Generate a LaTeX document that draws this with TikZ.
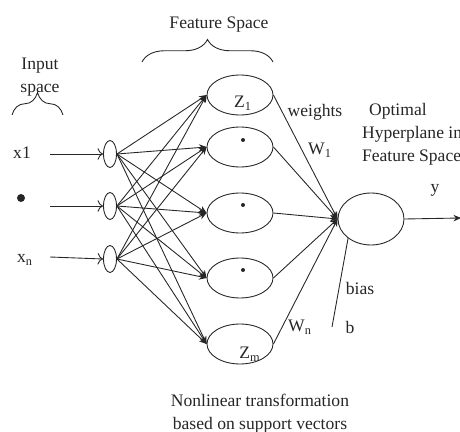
\documentclass[tikz,border=0pt]{standalone}
\usepackage{fontspec}
\setmainfont{Liberation Serif}
\usetikzlibrary{arrows.meta, shapes.geometric, decorations.pathreplacing}

\begin{document}
\begin{tikzpicture}[x=0.02cm, y=-0.02cm,
  lien/.style={black!85, line width=0.5pt},
  fleche/.style={-{Stealth[length=1.5mm, width=1.3mm]}},
  flecheE/.style={-{To[length=1.1mm]}},
  neurone/.style={draw, lien, ellipse, inner sep=0pt, minimum width=1.32cm, minimum height=0.8cm},
  entree/.style={draw, lien, ellipse, inner sep=0pt, minimum width=0.26cm, minimum height=0.54cm},
  point/.style={circle, fill=black!85, inner sep=0pt, minimum size=#1},
  accolade/.style={lien, decorate, decoration={brace, amplitude=0.45cm}},
  txt/.style={font=\fontsize{10}{13}\selectfont, inner sep=1pt, text=black!85}
]
  \useasboundingbox (0,0) rectangle (460,432);
  % Entrees
  \node[txt] (x1) at (22,153) {x1};
  \node[point=0.16cm] (xd) at (21,198) {};
  \node[txt] (xn) at (25,260) {x\textsubscript{n}};
  \coordinate (s1) at (50,154);
  \coordinate (s2) at (50,206);
  \coordinate (s3) at (50,257);
  \foreach \i/\y in {1/154, 2/206, 3/259}
    \node[entree] (a\i) at (110,\y) {};
  % Espace des caracteristiques
  \foreach \j/\y in {1/95, 2/147, 3/213, 4/278, 5/344}
    \node[neurone] (f\j) at (240,\y) {};
  \node[txt] (z1) at (243,103) {Z\textsubscript{1}};
  \node[point=0.08cm] (d2) at (243,140) {};
  \node[point=0.08cm] (d3) at (243,205) {};
  \node[point=0.08cm] (d4) at (243,270) {};
  \node[txt] (zm) at (250,354) {Z\textsubscript{m}};
  % Sortie
  \node[draw, lien, ellipse, inner sep=0pt, minimum width=1.32cm, minimum height=1.04cm] (o) at (371,219) {};
  \coordinate (b) at (332,327);
  \coordinate (y) at (461,218);
  % Liaisons
  \foreach \i in {1,2,3} \draw[lien, flecheE] (s\i) -- (a\i.west);
  \foreach \i in {1,2,3}
    \foreach \j in {1,...,5}
      \draw[lien, fleche] (a\i.east) -- (f\j.west);
  \foreach \j in {1,...,5} \draw[lien, fleche] (f\j.east) -- (o.west);
  \draw[lien] (b) -- (o.220);
  \draw[lien, fleche] (o.east) -- (y);
  % Textes
  \node[txt] (wts) at (315,112) {weights};
  \node[txt] (w1) at (320,150) {W\textsubscript{1}};
  \node[txt] (wn) at (300,327) {W\textsubscript{n}};
  \node[txt] (bias) at (360,288) {bias};
  \node[txt] (bb) at (350,327) {b};
  \node[txt] (yy) at (435,190) {y};
  \node[txt, align=left, anchor=west] (hyp) at (360,134) {\hspace{4pt}Optimal\\Hyperplane in\\Feature Space};
  \node[txt] (fs) at (219,25) {Feature Space};
  \node[txt, align=center] (is) at (40,77) {Input\\space};
  \node[txt, align=center] (nl) at (260,414) {Nonlinear transformation\\based on support vectors};
  % Accolades
  \draw[accolade] (142,62) -- (273,62);
  \draw[accolade] (12,115) -- (63,115);
\end{tikzpicture}
\end{document}
